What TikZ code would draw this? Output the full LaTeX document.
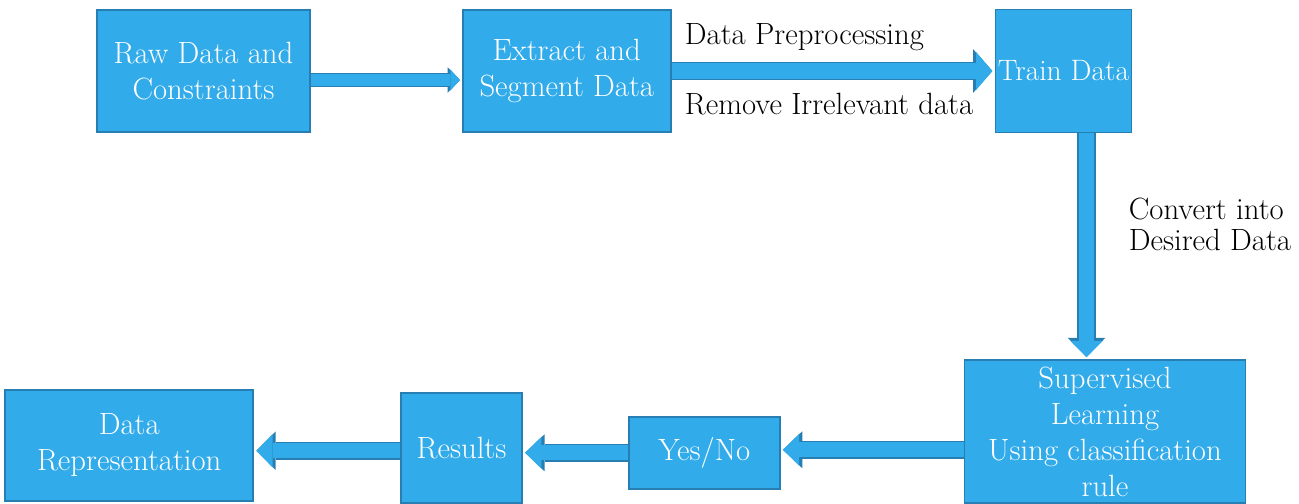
\documentclass[tikz,border=0pt]{standalone}
\usepackage{tikz}
\usetikzlibrary{arrows.meta,positioning}

\definecolor{boxblue}{RGB}{49,171,234}
\definecolor{edgeblue}{RGB}{38,126,178}

\begin{document}
\begin{tikzpicture}[
    node distance = 1.0cm,
    every node/.style = {font=\fontsize{17.5}{20.5}\selectfont},
    box/.style = {
        rectangle,
        draw=edgeblue,
        line width=1pt,
        fill=boxblue,
        text=white,
        align=center,
        inner xsep=0pt,
        inner ysep=1pt
    },
    note/.style = {
        align=left,
        inner sep=0pt,
        font=\fontsize{17.5}{17.8}\selectfont
    },
    arrow/.style 2 args = {
        preaction = {draw=edgeblue, line width=10.5pt,
            -{Triangle[length=11pt, width=#1, line width=0pt]}},
        draw=boxblue,
        line width=8.7pt,
        shorten >=1.3pt,
        -{Triangle[length=9.2pt, width=#2, line width=0pt]}
    },
    smallarrow/.style = {
        preaction = {draw=edgeblue, line width=8.5pt,
            -{Triangle[length=7pt, width=14.5pt, line width=0pt]}},
        draw=boxblue,
        line width=6.8pt,
        shorten >=1.1pt,
        -{Triangle[length=5.4pt, width=12pt, line width=0pt]}
    }
]

\useasboundingbox (0,0) rectangle (25.98,-10.06);

\node[box, minimum width=4.26cm, minimum height=2.44cm] (raw) at (4.07,-1.42) {Raw Data and\\Constraints};
\node[box, minimum width=4.16cm, minimum height=2.44cm, right=3.02cm of raw] (extract) {Extract and\\Segment Data};
\node[box, minimum width=2.72cm, minimum height=2.46cm, font=\fontsize{16.8}{20.5}\selectfont, right=6.46cm of extract] (train) {Train Data};
\node[box, minimum width=5.62cm, minimum height=2.86cm, below=4.52cm of train, xshift=0.83cm] (sup) {Supervised\\Learning\\Using classification\\rule};
\node[box, minimum width=3.02cm, minimum height=1.44cm, left=3.66cm of sup, yshift=-0.42cm] (yesno) {Yes/No};
\node[box, minimum width=2.42cm, minimum height=2.2cm, left=2.1cm of yesno, yshift=0.1cm] (results) {Results};
\node[box, minimum width=4.96cm, minimum height=2.22cm, left=2.92cm of results, yshift=0.05cm] (datarep) {Data\\Representation};

\draw[smallarrow] ([yshift=-0.18cm]raw.east) -- ([yshift=-0.18cm]extract.west);
\draw[arrow={25pt}{21.5pt}] (extract.east) -- (extract.east -| train.west);
\draw[arrow={21.5pt}{18.5pt}] ([xshift=0.46cm]train.south) -- ([xshift=0.46cm]train.south |- sup.north);
\draw[arrow={21pt}{18pt}] ([yshift=-0.36cm]sup.west) -- ([yshift=-0.36cm]sup.west -| yesno.east);
\draw[arrow={21pt}{18pt}] (yesno.west) -- (yesno.west -| results.east);
\draw[arrow={22pt}{19pt}] ([yshift=-0.06cm]results.west) -- ([yshift=-0.06cm]results.west -| datarep.east);

\node[note, anchor=base west] (prep) at ([xshift=0.26cm, yshift=0.54cm]extract.east) {Data Preprocessing};
\node[note, anchor=base west] (remove) at ([xshift=0.26cm, yshift=-0.86cm]extract.east) {Remove Irrelevant data};
\node[note, anchor=west] (convert) at ([xshift=1.3cm, yshift=-1.82cm]train.south) {Convert into\\Desired Data};

\end{tikzpicture}
\end{document}
